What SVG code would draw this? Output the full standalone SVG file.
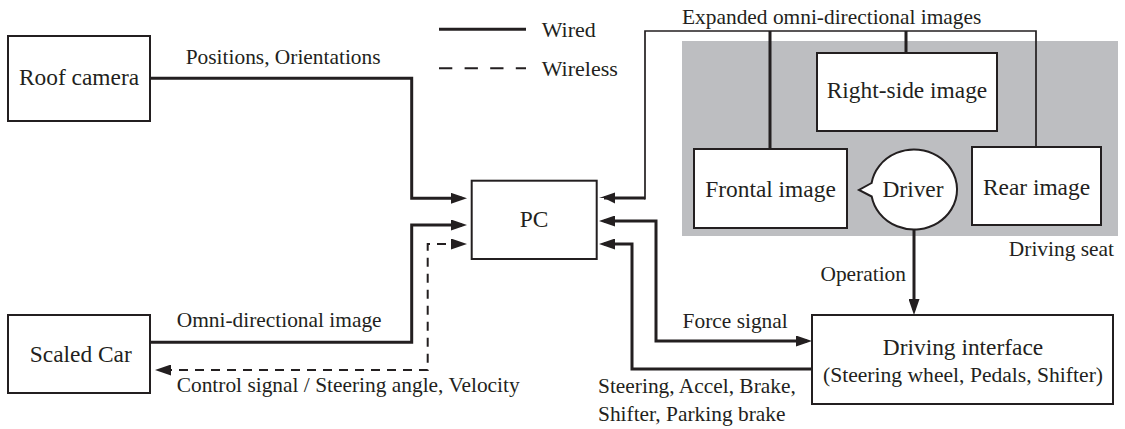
<svg xmlns="http://www.w3.org/2000/svg" width="1125" height="429" viewBox="0 0 1125 429">
<style>
text{font-family:"Liberation Serif","Times New Roman",serif;fill:#231f20}
.n{font-size:23.4px;text-anchor:middle}
.l{font-size:21.4px}
.box{fill:#fff;stroke:#231f20;stroke-width:2}
.w{fill:none;stroke:#231f20;stroke-width:3}
.t{fill:none;stroke:#231f20;stroke-width:1.7}
.d{fill:none;stroke:#231f20;stroke-width:2;stroke-dasharray:9 7}
.a{marker-end:url(#ah)}
.aa{marker-start:url(#ah);marker-end:url(#ah)}
</style>
<defs>
<marker id="ah" markerUnits="userSpaceOnUse" markerWidth="16" markerHeight="11" refX="11" refY="5.5" orient="auto-start-reverse" viewBox="0 0 16 11">
<path d="M0,0 L16,5.5 L0,11 Z" fill="#231f20"/>
</marker>
</defs>
<rect id="seat-bg" x="682" y="41" width="436" height="195" fill="#bdbec1"/>
<g id="legend">
<line x1="439" y1="29.3" x2="526" y2="29.3" stroke="#231f20" stroke-width="3"/>
<line x1="439" y1="68.3" x2="526" y2="68.3" stroke="#231f20" stroke-width="2" stroke-dasharray="13.3 12.3"/>
<text x="541.7" y="36.7" style="font-size:22px">Wired</text>
<text x="541.7" y="76" style="font-size:22px">Wireless</text>
</g>
<g id="connectors">
<path class="w a" d="M150,78.3 H411.7 V198.3 H462"/>
<path class="w a" d="M150,342.3 H411.7 V225 H462"/>
<path class="d aa" d="M462,244 H427.7 V370 H160"/>
<path class="w" d="M604,198 H645"/>
<path class="t" d="M645,199.5 V31 H1036 V147"/>
<path class="w" d="M770,31 V149 M906,31 V53"/>
<polygon points="604,198 599,198 615,192.5 615,203.5" fill="#231f20"/>
<path class="w aa" d="M604,221 H656 V341 H807"/>
<path class="w a" d="M812,369 H632 V244 H604"/>
<path class="w a" d="M914,229.5 V310"/>
<text class="l" x="185.7" y="64.3">Positions, Orientations</text>
<text class="l" x="682" y="24">Expanded omni-directional images</text>
<text class="l" x="176.7" y="326.7">Omni-directional image</text>
<text class="l" x="176.7" y="391.7">Control signal / Steering angle, Velocity</text>
<text class="l" x="682.6" y="328">Force signal</text>
<text class="l" x="598" y="393">Steering, Accel, Brake,</text>
<text class="l" x="598" y="420.7">Shifter, Parking brake</text>
<text class="l" x="906" y="280.5" text-anchor="end">Operation</text>
<text class="l" x="1114" y="256" text-anchor="end">Driving seat</text>
</g>
<g id="roof-camera">
<rect class="box" x="8" y="36" width="142" height="85"/>
<text class="n" x="79" y="85">Roof camera</text>
</g>
<g id="scaled-car">
<rect class="box" x="8" y="315" width="142" height="78"/>
<text class="n" x="80.8" y="362">Scaled Car</text>
</g>
<g id="pc">
<rect class="box" x="471.7" y="180.7" width="125" height="78.3"/>
<text class="n" x="534" y="227">PC</text>
</g>
<g id="right-side-image">
<rect class="box" x="817" y="53" width="180" height="78"/>
<text class="n" x="907" y="98">Right-side image</text>
</g>
<g id="frontal-image">
<rect class="box" x="694" y="149" width="153" height="79"/>
<text class="n" x="770.5" y="197">Frontal image</text>
</g>
<g id="rear-image">
<rect class="box" x="972" y="147" width="129" height="78"/>
<text class="n" x="1036.5" y="195">Rear image</text>
</g>
<g id="driver">
<path class="box" d="M871.6,183 L859,190 L871.7,196.5 A43,40 0 1,0 871.6,183 Z"/>
<text class="n" x="913" y="197">Driver</text>
</g>
<g id="driving-interface">
<rect class="box" x="812" y="315" width="301" height="89"/>
<text class="n" x="963" y="355">Driving interface</text>
<text x="963" y="381.7" style="font-size:21.6px;text-anchor:middle">(Steering wheel, Pedals, Shifter)</text>
</g>
</svg>
